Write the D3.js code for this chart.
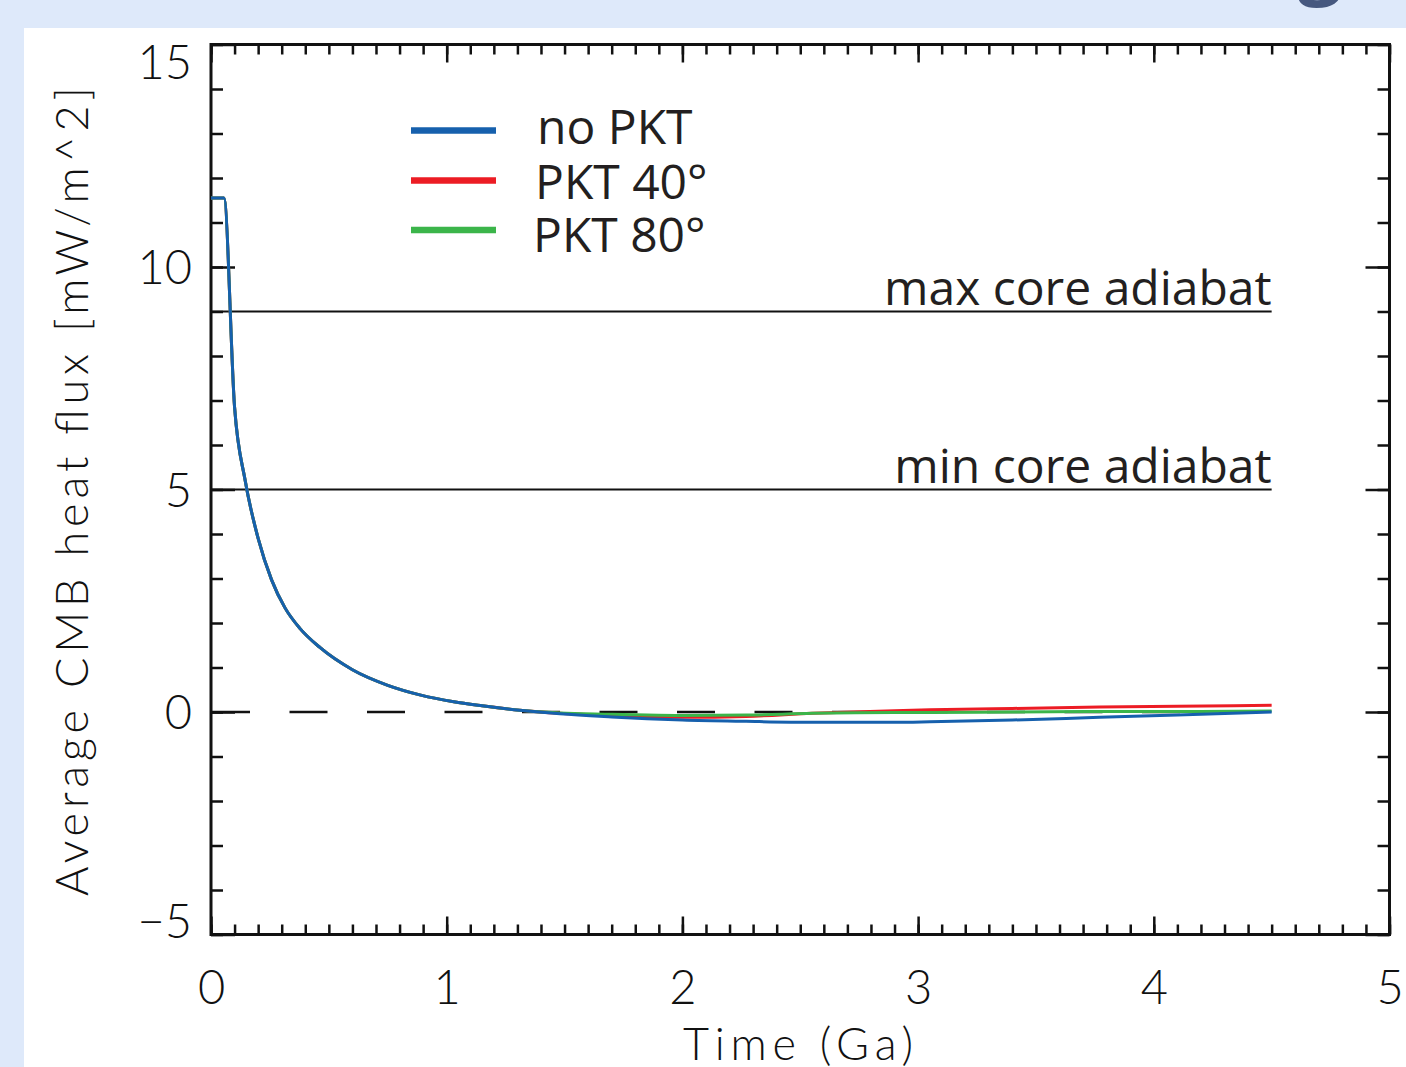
<!DOCTYPE html>
<html>
<head>
<meta charset="utf-8">
<script src="https://cdn.jsdelivr.net/npm/d3@7"></script>
<style>
  body { margin: 0; background: #dee9fa; }
  svg { display: block; }
</style>
</head>
<body>
<div id="chart"></div>
<script>
// time axis (Ga) shared by all runs
const time = [0, 0.055, 0.1, 0.145, 0.2, 0.257, 0.314, 0.377, 0.462, 0.6, 0.75, 0.89, 1.03, 1.15, 1.31,
    1.48, 1.7, 1.85, 2.0, 2.27, 2.55, 2.9, 3.05, 3.4, 3.77, 4.1, 4.5];

// average CMB heat flux (mW/m^2)
const noPkt = [11.55, 11.55, 6.85, 5.2, 3.9, 2.97, 2.34, 1.88, 1.45, 0.95, 0.6, 0.38, 0.23, 0.14, 0.04,
    -0.04, -0.11, -0.15, -0.18, -0.21, -0.23, -0.23, -0.22, -0.18, -0.12, -0.07, 0.0];
const pkt40 = [11.55, 11.55, 6.85, 5.2, 3.9, 2.97, 2.34, 1.88, 1.45, 0.95, 0.6, 0.38, 0.23, 0.14, 0.04,
    -0.03, -0.08, -0.11, -0.12, -0.1, -0.03, 0.03, 0.05, 0.08, 0.11, 0.13, 0.15];
const pkt80 = [11.55, 11.55, 6.85, 5.2, 3.9, 2.97, 2.34, 1.88, 1.45, 0.95, 0.6, 0.38, 0.23, 0.14, 0.04,
    -0.02, -0.05, -0.07, -0.08, -0.07, -0.03, -0.01, -0.01, 0.0, 0.01, 0.01, 0.02];

const seriesNames = ['no PKT', 'PKT 40°', 'PKT 80°'];
const seriesColors = ['#1660ad', '#ec1c24', '#3bb54a'];

const adiabats = [{label: 'max core adiabat', value: 9}, {label: 'min core adiabat', value: 5}];
const tEnd = 4.5;

const xMajor = [0, 1, 2, 3, 4, 5];
const yMajor = [-5, 0, 5, 10, 15];

const W = 1406, H = 1067;
const svg = d3.select('#chart').append('svg')
    .attr('width', W)
    .attr('height', H);

svg.append('rect').attr('x', 24).attr('y', 28).attr('width', W - 24).attr('height', H - 28).attr('fill', '#fff');

// cut-off heading glyph at the top
svg.append('text')
    .attr('x', 1298).attr('y', -11)
    .style('font-family', 'Open Sans').style('font-weight', 700).style('font-size', '78px')
    .attr('fill', '#46587f')
    .text('g');

const xScale = d3.scaleLinear().domain([0, 5]).range([211, 1389.5]);
const yScale = d3.scaleLinear().domain([-5, 15]).range([934.5, 44.5]);

const tickFont = 'Lato';

// inward ticks on all four sides
const minorX = d3.range(0, 51).map(d => d / 10);
const minorY = d3.range(-5, 16);
function ticks(axis, vals, size, tr) {
    const g = svg.append('g').attr('transform', tr)
        .call(axis.tickValues(vals).tickSize(size).tickFormat(''));
    g.select('.domain').remove();
    g.selectAll('line').attr('stroke', '#111').attr('stroke-width', 2.5);
}
ticks(d3.axisBottom(xScale), minorX, -10, `translate(0,${yScale(-5)})`);
ticks(d3.axisBottom(xScale), xMajor, -18, `translate(0,${yScale(-5)})`);
ticks(d3.axisTop(xScale), minorX, -10, `translate(0,${yScale(15)})`);
ticks(d3.axisTop(xScale), xMajor, -18, `translate(0,${yScale(15)})`);
ticks(d3.axisLeft(yScale), minorY, -12, `translate(${xScale(0)},0)`);
ticks(d3.axisLeft(yScale), yMajor, -24, `translate(${xScale(0)},0)`);
ticks(d3.axisRight(yScale), minorY, -12, `translate(${xScale(5)},0)`);
ticks(d3.axisRight(yScale), yMajor, -24, `translate(${xScale(5)},0)`);

// tick labels
const xLab = svg.append('g').attr('transform', `translate(0,${yScale(-5)})`)
    .call(d3.axisBottom(xScale).tickValues(xMajor).tickSize(0).tickFormat(d3.format('d')));
xLab.select('.domain').remove();
xLab.selectAll('text').attr('dy', 0).attr('y', 69)
    .style('font-family', tickFont).style('font-weight', 300).style('font-size', '47px').attr('fill', '#111');

// end labels are pulled inside the axis range
const yLab = svg.append('g').attr('transform', `translate(${xScale(0)},0)`)
    .call(d3.axisLeft(yScale).tickValues(yMajor).tickSize(0).tickPadding(19).tickFormat(d3.format('d')));
yLab.select('.domain').remove();
yLab.selectAll('text')
    .attr('y', d => d === 15 ? 17 : d === -5 ? -14 : 0)
    .attr('dy', '0.36em')
    .style('font-family', tickFont).style('font-weight', 300).style('font-size', '47px').attr('fill', '#111');

// frame
svg.append('rect')
    .attr('x', xScale(0)).attr('y', yScale(15))
    .attr('width', xScale(5) - xScale(0)).attr('height', yScale(-5) - yScale(15))
    .attr('fill', 'none').attr('stroke', '#111').attr('stroke-width', 3);

// axis titles
svg.append('text')
    .attr('transform', `translate(88,${(yScale(-5) + yScale(15)) / 2 + 2}) rotate(-90)`)
    .attr('text-anchor', 'middle')
    .attr('textLength', 809).attr('lengthAdjust', 'spacing')
    .style('font-family', tickFont).style('font-weight', 300).style('font-size', '45px').attr('fill', '#111')
    .text('Average CMB heat flux [mW/m^2]');

svg.append('text')
    .attr('x', 798).attr('y', 1060)
    .attr('text-anchor', 'middle')
    .attr('textLength', 230).attr('lengthAdjust', 'spacing')
    .style('font-family', tickFont).style('font-weight', 300).style('font-size', '45px').attr('fill', '#111')
    .text('Time (Ga)');

// zero reference
svg.append('line')
    .attr('x1', xScale(0) + 1).attr('x2', xScale(tEnd))
    .attr('y1', yScale(0)).attr('y2', yScale(0))
    .attr('stroke', '#111').attr('stroke-width', 2.5)
    .attr('stroke-dasharray', '38,39.5');

// adiabat lines
adiabats.forEach(a => {
    svg.append('line')
        .attr('x1', xScale(0)).attr('x2', xScale(tEnd))
        .attr('y1', yScale(a.value)).attr('y2', yScale(a.value))
        .attr('stroke', '#111').attr('stroke-width', 2.2);
    svg.append('text')
        .attr('x', xScale(tEnd)).attr('y', yScale(a.value) - 7)
        .attr('text-anchor', 'end')
        .style('font-family', 'Open Sans').style('font-size', '48px').attr('fill', '#231f20')
        .text(a.label);
});

// curves (red, green, then blue on top)
const line = d3.line()
    .x((d, i) => xScale(time[i]))
    .y(d => yScale(d))
    .curve(d3.curveMonotoneX);

[[pkt40, 1], [pkt80, 2], [noPkt, 0]].forEach(([vals, k]) => {
    svg.append('path')
        .datum(vals)
        .attr('d', line)
        .attr('fill', 'none')
        .attr('stroke', seriesColors[k])
        .attr('stroke-width', 3);
});

// legend
const legendY = [130.5, 180.5, 230];
const legendBase = [144, 199, 252];
const legendTextX = [537, 535, 533];
const legend = svg.selectAll('.leg')
    .data(seriesNames)
    .enter()
    .append('g');
legend.append('line')
    .attr('x1', 411).attr('x2', 496)
    .attr('y1', (d, i) => legendY[i]).attr('y2', (d, i) => legendY[i])
    .attr('stroke', (d, i) => seriesColors[i])
    .attr('stroke-width', 6.5);
legend.append('text')
    .attr('x', (d, i) => legendTextX[i])
    .attr('y', (d, i) => legendBase[i])
    .style('font-family', 'Open Sans').style('font-size', '48px').attr('fill', '#231f20')
    .text(d => d);
</script>
</body>
</html>
